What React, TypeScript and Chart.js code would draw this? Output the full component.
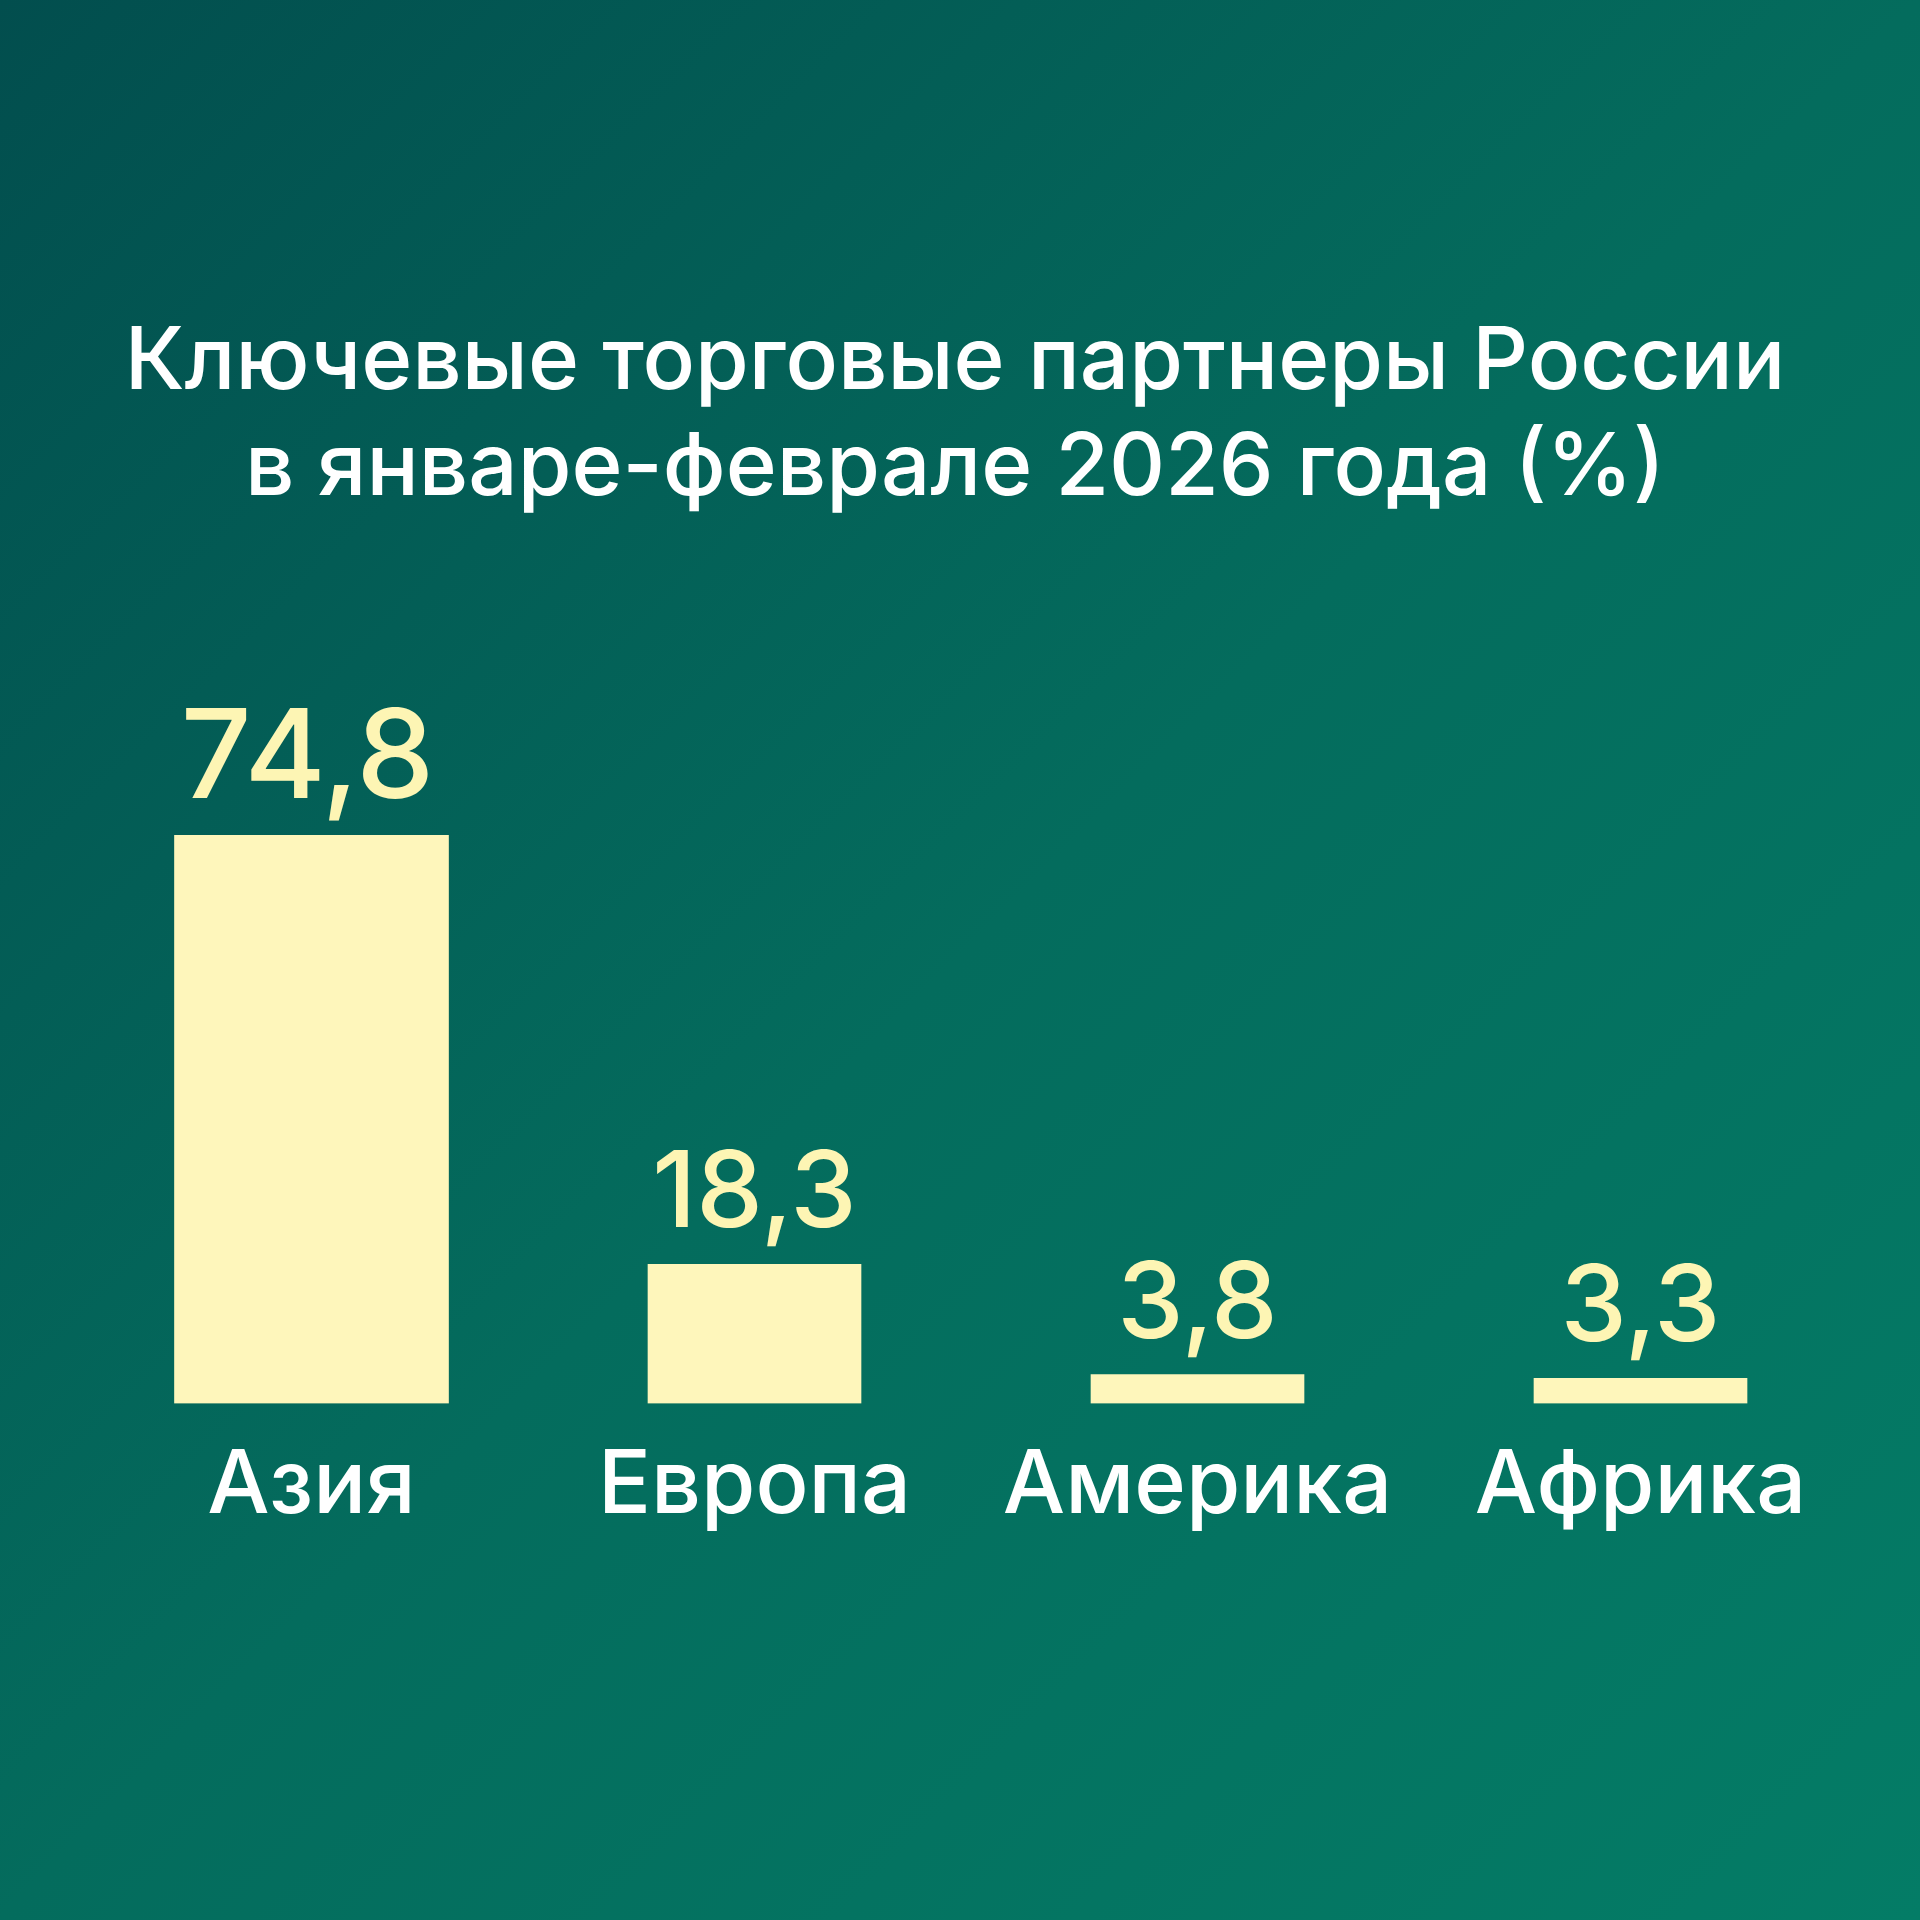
import React, { useEffect, useRef } from "react";
import { Chart, registerables } from "chart.js";

Chart.register(...registerables);

const titleLines = ["Ключевые торговые партнеры России", "в январе-феврале 2026 года (%)"];
const categories = ["Азия", "Европа", "Америка", "Африка"];
const values = [74.8, 18.3, 3.8, 3.3];
const valueLabels = ["74,8", "18,3", "3,8", "3,3"];

const BAR_COLOR = "#fef6bb";
const LABEL_COLOR = "#fdf5b4";
const FONT = "Inter, 'Noto Sans', sans-serif";

const backgroundPlugin = {
  id: "bgGradient",
  beforeDraw(chart: any) {
    const { ctx, width, height } = chart;
    const g = ctx.createLinearGradient(0, 0, width, height);
    g.addColorStop(0, "#024e4e");
    g.addColorStop(0.5, "#046c5d");
    g.addColorStop(1, "#047c66");
    ctx.save();
    ctx.fillStyle = g;
    ctx.fillRect(0, 0, width, height);
    ctx.restore();
  },
};

const titlePlugin = {
  id: "customTitle",
  afterDraw(chart: any) {
    const { ctx, width } = chart;
    ctx.save();
    ctx.fillStyle = "#ffffff";
    ctx.textAlign = "center";
    ctx.textBaseline = "alphabetic";
    ctx.font = `500 87px ${FONT}`;
    titleLines.forEach((line, i) => {
      ctx.fillText(line, width / 2 - 5, 389 + i * 106);
    });
    ctx.restore();
  },
};

const valueLabelPlugin = {
  id: "valueLabels",
  afterDatasetsDraw(chart: any) {
    const { ctx } = chart;
    ctx.save();
    ctx.fillStyle = LABEL_COLOR;
    ctx.textAlign = "center";
    ctx.textBaseline = "alphabetic";
    chart.data.datasets.forEach((ds: any, di: number) => {
      const meta = chart.getDatasetMeta(di);
      meta.data.forEach((el: any, i: number) => {
        if (ds.data[i] === null || ds.data[i] === undefined) return;
        const size = i === 0 ? 124 : 106;
        ctx.font = `500 ${size}px ${FONT}`;
        ctx.fillText(valueLabels[i], el.x - (i === 0 ? 4 : 0), el.y - 37);
      });
    });
    ctx.restore();
  },
};

export default function App() {
  const ref = useRef<HTMLCanvasElement | null>(null);

  useEffect(() => {
    if (!ref.current) return;
    const wide = values.map((v, i) => (i === 0 ? v : null));
    const narrow = values.map((v, i) => (i === 0 ? null : v));
    const chart = new Chart(ref.current, {
      type: "bar",
      data: {
        labels: categories,
        datasets: [
          {
            data: wide,
            backgroundColor: BAR_COLOR,
            borderWidth: 0,
            barThickness: 274,
            grouped: false,
            skipNull: true,
          } as any,
          {
            data: narrow,
            backgroundColor: BAR_COLOR,
            borderWidth: 0,
            barThickness: 213,
            grouped: false,
            skipNull: true,
          } as any,
        ],
      },
      options: {
        animation: false,
        responsive: false,
        devicePixelRatio: 1,
        layout: { padding: { left: 90, right: 58, top: 835, bottom: 351 } },
        plugins: {
          legend: { display: false },
          tooltip: { enabled: false },
          title: { display: false },
        },
        scales: {
          x: {
            grid: { display: false, drawTicks: false },
            border: { display: false },
            ticks: {
              color: "#ffffff",
              font: { family: FONT, size: 88, weight: 500, lineHeight: 1.2 },
              padding: 30,
              maxRotation: 0,
            },
          },
          y: {
            display: false,
            min: 0,
            max: Math.max(...values),
          },
        },
      },
      plugins: [backgroundPlugin, valueLabelPlugin, titlePlugin],
    });
    return () => chart.destroy();
  }, []);

  return (
    <div style={{ position: "absolute", left: 0, top: 0, width: 1920, height: 1920 }}>
      <canvas ref={ref} width={1920} height={1920} style={{ display: "block" }} />
    </div>
  );
}
